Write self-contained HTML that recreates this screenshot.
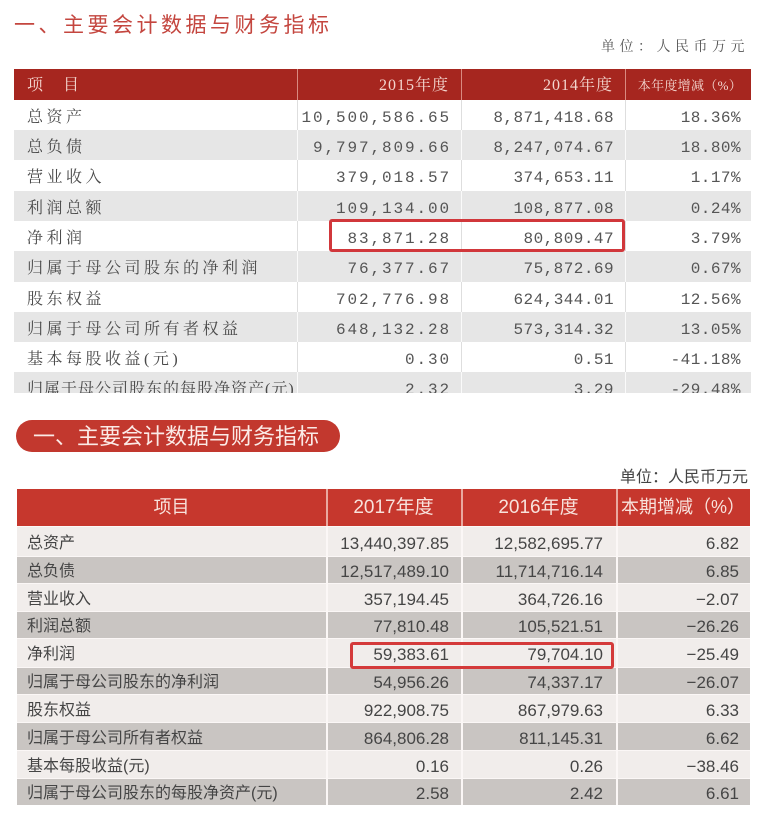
<!DOCTYPE html>
<html><head><meta charset="utf-8">
<style>
*{margin:0;padding:0;box-sizing:border-box}
body{width:762px;height:813px;background:#fff;position:relative;overflow:hidden}
.a{position:absolute}
.serif{font-family:"Liberation Serif","Noto Serif CJK SC",serif}
.sans{font-family:"Liberation Sans","Noto Sans CJK SC",sans-serif}
.r1{position:absolute;left:14px;width:737px;overflow:hidden}
.r1 div{position:absolute;top:0;height:100%;white-space:nowrap;padding-top:3px}
.r1 .c1{left:0;width:283px;padding-left:13px;font-family:"Liberation Serif","Noto Serif CJK SC",serif;font-size:16px;letter-spacing:3.5px;color:#4a4a4a}
.r1 .c2{left:283px;width:164px;text-align:right;padding-right:10px;font-family:"Liberation Mono",monospace;font-size:16px;letter-spacing:1.9px;color:#555}
.r1 .c3{left:447px;width:164px;text-align:right;padding-right:11px;font-family:"Liberation Mono",monospace;font-size:16px;letter-spacing:0.45px;color:#555}
.r1 .c4{left:611px;width:126px;text-align:right;padding-right:10px;font-family:"Liberation Mono",monospace;font-size:16px;letter-spacing:0.45px;color:#555}
.r1.w{background:#fff}
.r1.g{background:#e6e6e6}
.r1.w .c2,.r1.w .c3,.r1.w .c4{border-left:1px solid #dedede}
.r1.g .c2,.r1.g .c3,.r1.g .c4{border-left:1px solid #fafafa}
.r2{position:absolute;left:17px;width:733px;border-top:1px solid #fbf7f6}
.r2 div{position:absolute;top:0;height:100%;white-space:nowrap;font-family:"Liberation Sans","Noto Sans CJK SC",sans-serif;color:#454545;padding-top:2px}
.r2 .c1{left:0;width:309px;padding-left:10px;font-size:16px}
.r2 .c2{left:309px;width:135px;text-align:right;padding-right:12px;font-size:17px;border-left:2px solid #fbf7f6}
.r2 .c3{left:444px;width:155px;text-align:right;padding-right:13px;font-size:17px;border-left:2px solid #fbf7f6}
.r2 .c4{left:599px;width:134px;text-align:right;padding-right:11px;font-size:17px;border-left:2px solid #fbf7f6}
.r2.w{background:#f1edeb}
.r2.g{background:#c9c5c2}
</style></head><body>

<!-- Section 1 title -->
<div class="a" style="left:14px;top:10px;font-family:'Liberation Sans','Noto Sans CJK SC',sans-serif;font-size:21px;letter-spacing:3.5px;color:#c4463f;line-height:32px;white-space:nowrap">一、主要会计数据与财务指标</div>
<div class="a serif" style="left:601px;top:37px;font-size:14px;letter-spacing:4.5px;color:#555;line-height:22px;white-space:nowrap">单位：人民币万元</div>

<!-- Table 1 header -->
<div class="a" style="left:14px;top:69px;width:737px;height:31px;background:#a6261f"></div>
<div class="a" style="left:297px;top:69px;width:1px;height:31px;background:#d98a80"></div>
<div class="a" style="left:461px;top:69px;width:1px;height:31px;background:#d98a80"></div>
<div class="a" style="left:625px;top:69px;width:1px;height:31px;background:#d98a80"></div>
<div class="a serif" style="left:27px;top:69px;line-height:33px;font-size:16px;color:#f3d6cf;letter-spacing:2px;white-space:nowrap">项&nbsp;&nbsp;&nbsp;目</div>
<div class="a serif" style="left:297px;top:69px;width:164px;padding-right:12px;text-align:right;line-height:33px;font-size:16px;color:#f3d6cf;letter-spacing:1px;white-space:nowrap">2015年度</div>
<div class="a serif" style="left:461px;top:69px;width:164px;padding-right:12px;text-align:right;line-height:33px;font-size:16px;color:#f3d6cf;letter-spacing:1px;white-space:nowrap">2014年度</div>
<div class="a serif" style="left:625px;top:69px;width:126px;padding-right:9px;text-align:right;line-height:33px;font-size:13px;color:#f3d6cf;letter-spacing:0.3px;white-space:nowrap">本年度增减（%）</div>

<!-- Table 1 rows -->
<div class="r1 w" style="top:100px;height:30px;line-height:30px"><div class="c1">总资产</div><div class="c2">10,500,586.65</div><div class="c3">8,871,418.68</div><div class="c4">18.36%</div></div>
<div class="r1 g" style="top:130px;height:30px;line-height:30px"><div class="c1">总负债</div><div class="c2">9,797,809.66</div><div class="c3">8,247,074.67</div><div class="c4">18.80%</div></div>
<div class="r1 w" style="top:160px;height:31px;line-height:30px"><div class="c1">营业收入</div><div class="c2">379,018.57</div><div class="c3">374,653.11</div><div class="c4">1.17%</div></div>
<div class="r1 g" style="top:191px;height:30px;line-height:30px"><div class="c1">利润总额</div><div class="c2">109,134.00</div><div class="c3">108,877.08</div><div class="c4">0.24%</div></div>
<div class="r1 w" style="top:221px;height:30px;line-height:30px"><div class="c1">净利润</div><div class="c2">83,871.28</div><div class="c3">80,809.47</div><div class="c4">3.79%</div></div>
<div class="r1 g" style="top:251px;height:31px;line-height:30px"><div class="c1">归属于母公司股东的净利润</div><div class="c2">76,377.67</div><div class="c3">75,872.69</div><div class="c4">0.67%</div></div>
<div class="r1 w" style="top:282px;height:30px;line-height:30px"><div class="c1">股东权益</div><div class="c2">702,776.98</div><div class="c3">624,344.01</div><div class="c4">12.56%</div></div>
<div class="r1 g" style="top:312px;height:30px;line-height:30px"><div class="c1">归属于母公司所有者权益</div><div class="c2">648,132.28</div><div class="c3">573,314.32</div><div class="c4">13.05%</div></div>
<div class="r1 w" style="top:342px;height:30px;line-height:30px"><div class="c1">基本每股收益(元)</div><div class="c2">0.30</div><div class="c3">0.51</div><div class="c4">-41.18%</div></div>
<div class="r1 g" style="top:372px;height:21px;line-height:30px"><div class="c1" style="letter-spacing:1px">归属于母公司股东的每股净资产(元)</div><div class="c2">2.32</div><div class="c3">3.29</div><div class="c4">-29.48%</div></div>

<!-- Red box 1 -->
<div class="a" style="left:329px;top:219px;width:296px;height:33px;border:3px solid #d1373b;border-radius:3px"></div>

<!-- Section 2 pill -->
<div class="a" style="left:16px;top:420px;width:324px;height:32px;background:#c2382e;border-radius:16px"></div>
<div class="a sans" style="left:33px;top:420px;line-height:34px;font-size:22px;color:#fbeae6;white-space:nowrap">一、主要会计数据与财务指标</div>
<div class="a sans" style="left:620px;top:468px;font-size:16px;line-height:20px;color:#444;white-space:nowrap">单位：人民币万元</div>

<!-- Table 2 header -->
<div class="a" style="left:17px;top:489px;width:733px;height:37px;background:#c6372d"></div>
<div class="a" style="left:326px;top:489px;width:2px;height:37px;background:#e9a9a0"></div>
<div class="a" style="left:461px;top:489px;width:2px;height:37px;background:#e9a9a0"></div>
<div class="a" style="left:616px;top:489px;width:2px;height:37px;background:#e9a9a0"></div>
<div class="a sans" style="left:17px;top:489px;width:309px;text-align:center;line-height:37px;font-size:18px;color:#f8e2dc;white-space:nowrap">项目</div>
<div class="a sans" style="left:326px;top:489px;width:135px;text-align:center;line-height:37px;font-size:19px;color:#f8e2dc;white-space:nowrap">2017年度</div>
<div class="a sans" style="left:461px;top:489px;width:155px;text-align:center;line-height:37px;font-size:19px;color:#f8e2dc;white-space:nowrap">2016年度</div>
<div class="a sans" style="left:616px;top:489px;width:134px;text-align:center;line-height:37px;font-size:18px;color:#f8e2dc;white-space:nowrap">本期增减（%）</div>

<!-- Table 2 rows -->
<div class="r2 w" style="top:526px;height:30px;line-height:29px"><div class="c1">总资产</div><div class="c2">13,440,397.85</div><div class="c3">12,582,695.77</div><div class="c4">6.82</div></div>
<div class="r2 g" style="top:556px;height:27px;line-height:26px"><div class="c1">总负债</div><div class="c2">12,517,489.10</div><div class="c3">11,714,716.14</div><div class="c4">6.85</div></div>
<div class="r2 w" style="top:583px;height:28px;line-height:27px"><div class="c1">营业收入</div><div class="c2">357,194.45</div><div class="c3">364,726.16</div><div class="c4">−2.07</div></div>
<div class="r2 g" style="top:611px;height:27px;line-height:26px"><div class="c1">利润总额</div><div class="c2">77,810.48</div><div class="c3">105,521.51</div><div class="c4">−26.26</div></div>
<div class="r2 w" style="top:638px;height:29px;line-height:28px"><div class="c1">净利润</div><div class="c2">59,383.61</div><div class="c3">79,704.10</div><div class="c4">−25.49</div></div>
<div class="r2 g" style="top:667px;height:27px;line-height:26px"><div class="c1">归属于母公司股东的净利润</div><div class="c2">54,956.26</div><div class="c3">74,337.17</div><div class="c4">−26.07</div></div>
<div class="r2 w" style="top:694px;height:28px;line-height:27px"><div class="c1">股东权益</div><div class="c2">922,908.75</div><div class="c3">867,979.63</div><div class="c4">6.33</div></div>
<div class="r2 g" style="top:722px;height:28px;line-height:27px"><div class="c1">归属于母公司所有者权益</div><div class="c2">864,806.28</div><div class="c3">811,145.31</div><div class="c4">6.62</div></div>
<div class="r2 w" style="top:750px;height:28px;line-height:27px"><div class="c1">基本每股收益(元)</div><div class="c2">0.16</div><div class="c3">0.26</div><div class="c4">−38.46</div></div>
<div class="r2 g" style="top:778px;height:27px;line-height:26px"><div class="c1">归属于母公司股东的每股净资产(元)</div><div class="c2">2.58</div><div class="c3">2.42</div><div class="c4">6.61</div></div>

<!-- Red box 2 -->
<div class="a" style="left:350px;top:642px;width:264px;height:27px;border:3px solid #d43a3a;border-radius:3px"></div>

</body></html>
